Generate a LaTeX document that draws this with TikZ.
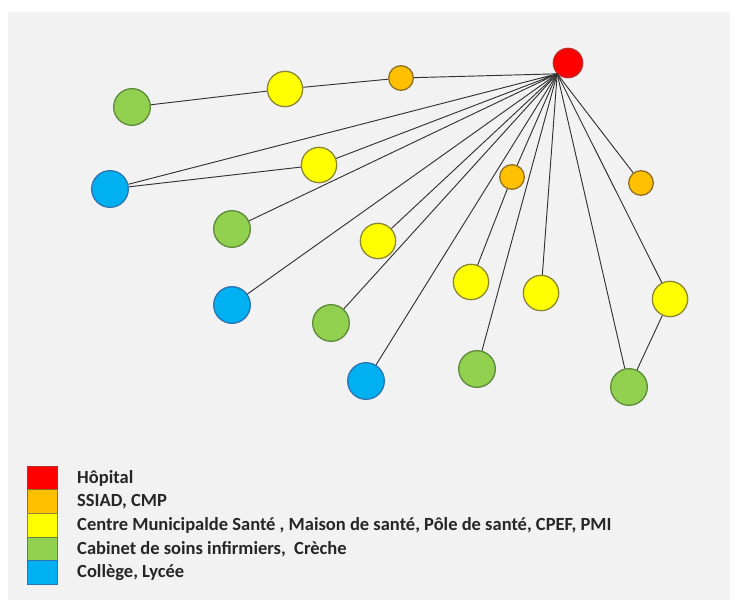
\documentclass[tikz,border=0pt]{standalone}
\usepackage{fontspec}
\setmainfont{Carlito}
\usetikzlibrary{positioning}

\definecolor{fond}{HTML}{F2F2F2}
\definecolor{rouge}{HTML}{FF0000}
\definecolor{rougebord}{HTML}{C0282A}
\definecolor{orangef}{HTML}{FFC000}
\definecolor{orangebord}{HTML}{8E6E22}
\definecolor{jaune}{HTML}{FFFF00}
\definecolor{jaunebord}{HTML}{8A8636}
\definecolor{vert}{HTML}{92D050}
\definecolor{vertbord}{HTML}{5C8A3A}
\definecolor{bleu}{HTML}{00B0F0}
\definecolor{bleubord}{HTML}{2E74B0}

\tikzset{
  site/.style={circle, inner sep=0pt, line width=1.1pt},
  hopital/.style={site, fill=rouge, draw=rougebord, minimum size=8.8mm},
  ssiad/.style={site, fill=orangef, draw=orangebord, minimum size=7.4mm},
  centre/.style={site, fill=jaune, draw=jaunebord, minimum size=10.6mm},
  cabinet/.style={site, fill=vert, draw=vertbord, minimum size=11mm},
  college/.style={site, fill=bleu, draw=bleubord, minimum size=11mm},
  lien/.style={draw=black!80, line width=0.8pt},
  cle/.style={rectangle, inner sep=0pt, outer sep=0pt, minimum width=9mm, minimum height=7.1mm, line width=0.6pt},
  legende/.style={font=\fontsize{15.8}{18}\selectfont\bfseries, text=black!85, inner sep=0pt}
}

\begin{document}
\begin{tikzpicture}[x=0.3mm, y=-0.3mm]
\useasboundingbox (0,0) rectangle (735,606);
\fill[white] (0,0) rectangle (735,606);
\fill[fond] (8,12) rectangle (730,600);

% les sites
\node[hopital] (H) at (568,63) {};
\coordinate (hub) at (H.south west);
\node[ssiad] (s1) at (401,78) {};
\node[centre] (c1) at (285,89) {};
\node[cabinet] (k1) at (132,107) {};
\node[college] (l1) at (110,189) {};
\node[centre] (c2) at (319,165) {};
\node[ssiad] (s2) at (512,177) {};
\node[ssiad] (s3) at (641,183) {};
\node[cabinet] (k2) at (232,229) {};
\node[centre] (c3) at (378,241) {};
\node[college] (l2) at (232,305) {};
\node[centre] (c4) at (471,282) {};
\node[centre] (c5) at (541,293) {};
\node[centre] (c6) at (670,299) {};
\node[cabinet] (k3) at (331,323) {};
\node[college] (l3) at (366,381) {};
\node[cabinet] (k4) at (477,369) {};
\node[cabinet] (k5) at (629,387) {};

% les liens
\draw[lien] (hub) -- (s1) -- (c1) -- (k1);
\draw[lien] (hub) -- (l1) -- (c2) -- (hub);
\foreach \n in {k2,c3,l2,k3,l3,s2,k4,c5,s3,c6,k5}
  \draw[lien] (hub) -- (\n);
\draw[lien] (s2) -- (c4);
\draw[lien] (c6) -- (k5);

% legende
\node[cle, fill=rouge, draw=rougebord] (cH) at (42,478) {};
\node[cle, fill=orangef, draw=orangebord, below=0pt of cH] (cS) {};
\node[cle, fill=jaune, draw=jaunebord, below=0pt of cS] (cC) {};
\node[cle, fill=vert, draw=vertbord, below=0pt of cC] (cK) {};
\node[cle, fill=bleu, draw=bleubord, below=0pt of cK] (cL) {};
\node[legende, right=6mm of cH] (tH) {Hôpital};
\node[legende, right=6mm of cS] (tS) {SSIAD, CMP};
\node[legende, right=6mm of cC] (tC) {Centre Municipalde Santé , Maison de santé, Pôle de santé, CPEF, PMI};
\node[legende, right=6mm of cK] (tK) {Cabinet de soins infirmiers,~ Crèche};
\node[legende, right=6mm of cL] (tL) {Collège, Lycée};
\end{tikzpicture}
\end{document}
